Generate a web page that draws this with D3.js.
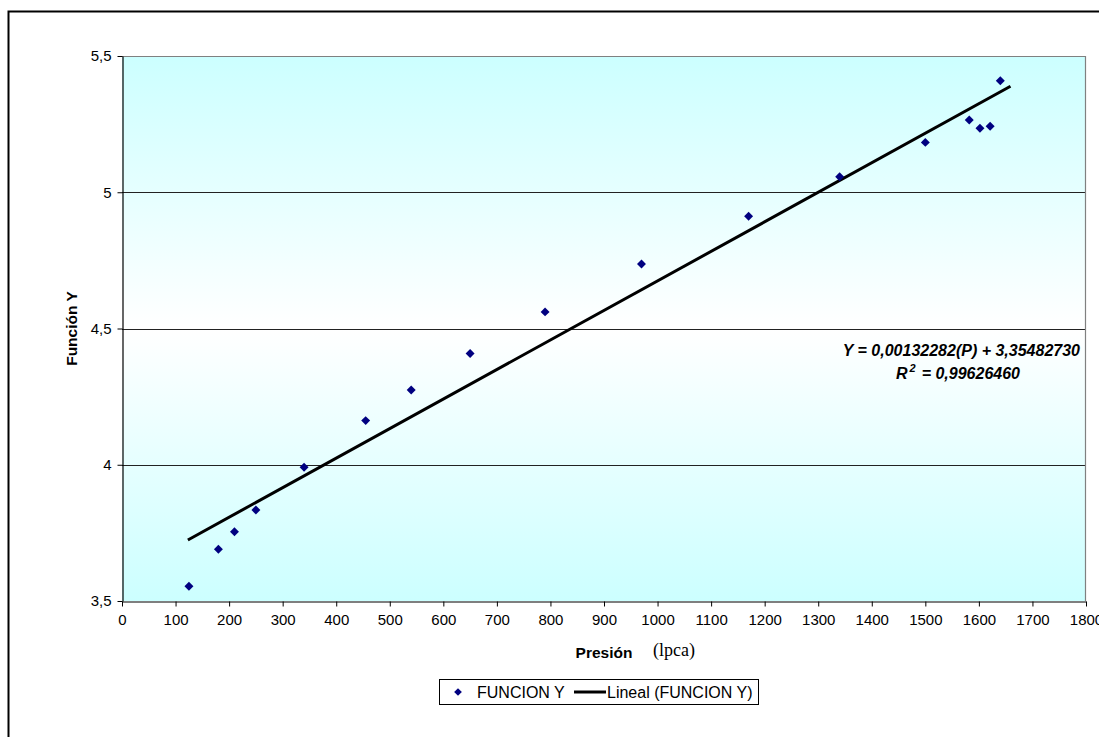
<!DOCTYPE html>
<html><head><meta charset="utf-8">
<script src="https://cdn.jsdelivr.net/npm/d3@7"></script>
<style>body{margin:0;background:#fff}svg{display:block}</style>
</head><body>
<script>
const presion = [125,180,210,250,340,455,540,650,790,970,1170,1340,1500,1582,1602,1621,1640];
const funcionY = [3.554,3.690,3.754,3.834,3.991,4.162,4.274,4.408,4.561,4.737,4.912,5.057,5.183,5.265,5.235,5.242,5.409];
const trendX = [123,1659];
const trendY = [3.724,5.389];
const xTicks = [0,100,200,300,400,500,600,700,800,900,1000,1100,1200,1300,1400,1500,1600,1700,1800];
const yTicks = [3.5,4,4.5,5,5.5];
const yTickLabels = ["3,5","4","4,5","5","5,5"];
const eqLine1 = "Y = 0,00132282(P) + 3,35482730";
const eqLine2 = "= 0,99626460";

const W=1099,H=737;
const FONT="Liberation Sans, Arial, sans-serif";
const svg=d3.select("body").append("svg").attr("width",W).attr("height",H);
const L=122,R=1086,T=56,B=601;
const x=d3.scaleLinear().domain([0,1800]).range([L,R]);
const y=d3.scaleLinear().domain([3.5,5.5]).range([B,T]);

// outer chart frame
svg.append("rect").attr("x",8.5).attr("y",11.5).attr("width",1200).attr("height",900)
  .attr("fill","none").attr("stroke","#000").attr("stroke-width",2);

const defs=svg.append("defs");
const g=defs.append("linearGradient").attr("id","bg").attr("x1",0).attr("y1",0).attr("x2",0).attr("y2",1);
g.append("stop").attr("offset","0%").attr("stop-color","#ccffff");
g.append("stop").attr("offset","50%").attr("stop-color","#ffffff");
g.append("stop").attr("offset","100%").attr("stop-color","#ccffff");
svg.append("rect").attr("x",L).attr("y",T).attr("width",R-L).attr("height",B-T).attr("fill","url(#bg)");

// gridlines
svg.append("g").selectAll("line").data(yTicks.filter(d=>d>3.5&&d<5.5)).join("line")
  .attr("x1",L).attr("x2",R).attr("y1",d=>Math.round(y(d))+0.5).attr("y2",d=>Math.round(y(d))+0.5)
  .attr("stroke","#222").attr("stroke-width",1);
// top & right border
svg.append("path").attr("d",`M${L},${T+0.5}H${R-0.5}V${B}`).attr("fill","none").attr("stroke","#808080").attr("stroke-width",1.2);

// axes
const xAxis=d3.axisBottom(x).tickValues(xTicks).tickFormat(d=>String(d)).tickSizeInner(5).tickSizeOuter(0);
const xg=svg.append("g").attr("transform",`translate(0,${B+0.5})`).call(xAxis);
xg.select(".domain").attr("stroke","#000").attr("stroke-width",1.2);
xg.selectAll(".tick line").attr("stroke","#000");
xg.selectAll("text").attr("font-family",FONT).attr("font-size",15).attr("fill","#000").attr("y",13).attr("dy","0.71em");

const yAxis=d3.axisLeft(y).tickValues(yTicks).tickFormat((d,i)=>yTickLabels[i]).tickSizeInner(5).tickSizeOuter(0);
const yg=svg.append("g").attr("transform",`translate(${L+0.5},0)`).call(yAxis);
yg.select(".domain").attr("stroke","#000").attr("stroke-width",1.2);
yg.selectAll(".tick line").attr("stroke","#000");
yg.selectAll("text").attr("font-family",FONT).attr("font-size",15).attr("fill","#000").attr("x",-11);

// trend line
svg.append("line").attr("x1",x(trendX[0])).attr("y1",y(trendY[0])).attr("x2",x(trendX[1])).attr("y2",y(trendY[1]))
  .attr("stroke","#000").attr("stroke-width",3);

// points
const diamond=d3.symbol().type(d3.symbolSquare).size(40);
svg.append("g").selectAll("path").data(presion.map((p,i)=>[p,funcionY[i]])).join("path")
  .attr("d",diamond).attr("transform",d=>`translate(${x(d[0])},${y(d[1])}) rotate(45)`)
  .attr("fill","#000080");

// equation
const eq=svg.append("g").attr("font-family",FONT).attr("font-weight","bold").attr("font-style","italic").attr("font-size",16).attr("fill","#000");
eq.append("text").attr("x",1080).attr("y",356).attr("text-anchor","end").text(eqLine1);
const t2=eq.append("text").attr("x",1020).attr("y",379).attr("text-anchor","end");
t2.append("tspan").text("R");
t2.append("tspan").attr("dx",2).attr("dy",-7).attr("font-size",11).text("2");
t2.append("tspan").attr("dx",6).attr("dy",7).text(eqLine2);

// axis titles
svg.append("text").attr("transform",`translate(77,${(T+B)/2}) rotate(-90)`).attr("text-anchor","middle")
  .attr("font-family",FONT).attr("font-weight","bold").attr("font-size",15.5).text("Función Y");
svg.append("text").attr("x",604).attr("y",658).attr("text-anchor","middle")
  .attr("font-family",FONT).attr("font-weight","bold").attr("font-size",15.5).text("Presión");
svg.append("text").attr("x",653).attr("y",656)
  .attr("font-family","Liberation Serif, Times New Roman, serif").attr("font-size",18).text("(lpca)");

// legend
const lg=svg.append("g");
lg.append("rect").attr("x",439.5).attr("y",679.5).attr("width",319).attr("height",25).attr("fill","#fff").attr("stroke","#000");
lg.append("path").attr("d",d3.symbol().type(d3.symbolSquare).size(30)).attr("transform","translate(458,692) rotate(45)").attr("fill","#000080");
lg.append("text").attr("x",477).attr("y",698).attr("font-family",FONT).attr("font-size",16).text("FUNCION Y");
lg.append("line").attr("x1",574).attr("x2",606).attr("y1",692).attr("y2",692).attr("stroke","#000").attr("stroke-width",3);
lg.append("text").attr("x",607).attr("y",698).attr("font-family",FONT).attr("font-size",16).text("Lineal (FUNCION Y)");
</script>
</body></html>
